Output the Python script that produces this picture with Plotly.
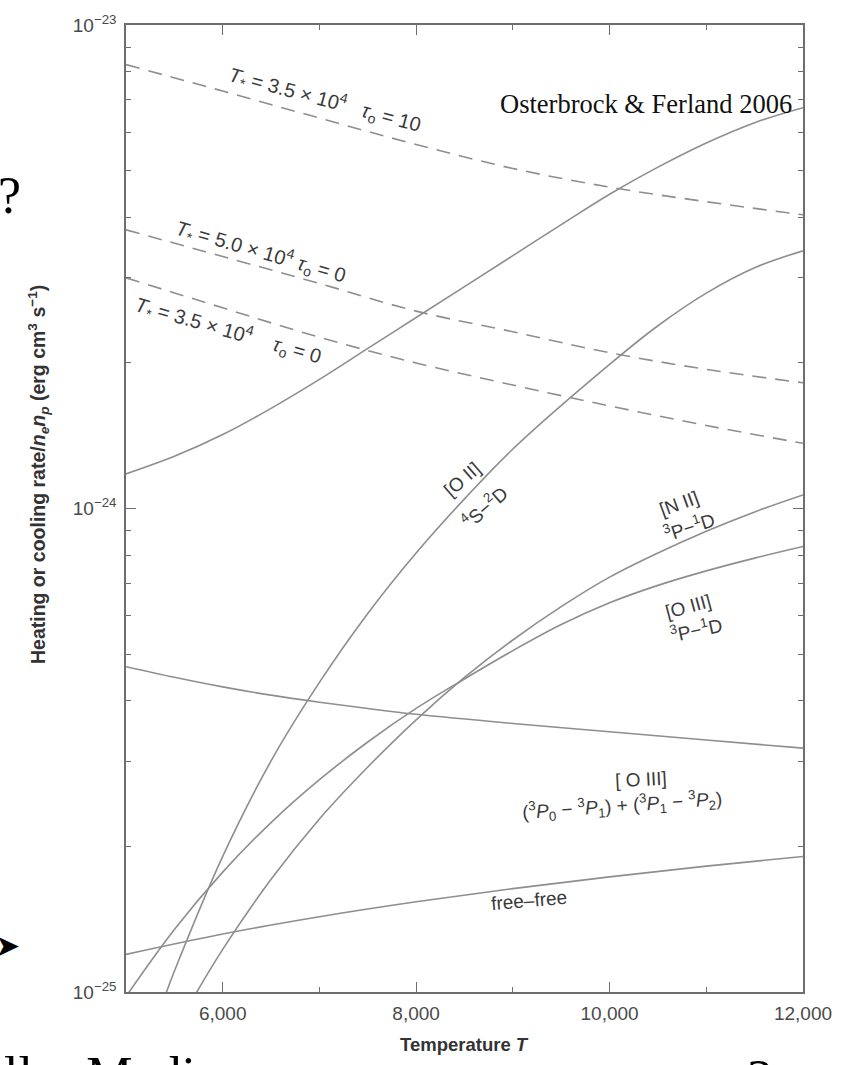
import numpy as np
import plotly.graph_objects as go

# ---- heating rates (dashed) ----
heat_a_T = [5000, 6000, 7000, 8000, 9000, 10000, 11000, 12000]
heat_a = [8.28e-24, 7.30e-24, 6.42e-24, 5.66e-24, 5.05e-24, 4.62e-24, 4.31e-24, 4.05e-24]   # T*=3.5e4, tau0=10

heat_b_T = [5000, 6000, 7000, 8000, 9000, 10000, 11000, 12000]
heat_b = [3.77e-24, 3.32e-24, 2.92e-24, 2.56e-24, 2.32e-24, 2.10e-24, 1.94e-24, 1.82e-24]   # T*=5.0e4, tau0=0

heat_c_T = [5000, 6000, 7000, 8000, 9000, 10000, 11000, 12000]
heat_c = [3.00e-24, 2.60e-24, 2.26e-24, 2.00e-24, 1.80e-24, 1.63e-24, 1.485e-24, 1.364e-24]  # T*=3.5e4, tau0=0

# ---- cooling rates (solid) ----
grid_T = [5000, 5500, 6000, 6500, 7000, 7500, 8000, 8500, 9000, 9500, 10000, 10500, 11000, 11500, 12000]

total = [1.179e-24, 1.282e-24, 1.422e-24, 1.611e-24, 1.849e-24, 2.143e-24, 2.483e-24, 2.877e-24,
         3.334e-24, 3.864e-24, 4.467e-24, 5.082e-24, 5.702e-24, 6.281e-24, 6.745e-24]

oii_T = [5400, 5500, 6000, 6500, 7000, 7500, 8000, 8500, 9000, 10000, 10500, 11000, 11500, 12000]
oii = [9.77e-26, 1.104e-25, 1.908e-25, 3.006e-25, 4.369e-25, 6.067e-25, 8.091e-25, 1.0471e-24,
       1.3274e-24, 1.9861e-24, 2.3878e-24, 2.7895e-24, 3.1477e-24, 3.4119e-24]

nii_T = [5700, 6000, 6500, 7000, 7500, 8000, 8500, 9000, 9500, 10000, 10500, 11000, 11500, 12000]
nii = [9.75e-26, 1.225e-25, 1.710e-25, 2.280e-25, 2.920e-25, 3.656e-25, 4.472e-25, 5.346e-25,
       6.266e-25, 7.211e-25, 8.091e-25, 8.974e-25, 9.840e-25, 1.0666e-24]

oiii = [9.79e-26, 1.347e-25, 1.770e-25, 2.241e-25, 2.748e-25, 3.289e-25, 3.859e-25, 4.441e-25,
        5.082e-25, 5.754e-25, 6.383e-25, 6.934e-25, 7.430e-25, 7.896e-25, 8.344e-25]

fs_T = [5000, 5500, 6000, 6500, 7000, 7500, 8000, 9000, 10000, 11000, 12000]
oiii_fs = [4.708e-25, 4.477e-25, 4.276e-25, 4.111e-25, 3.976e-25, 3.858e-25, 3.753e-25,
           3.592e-25, 3.454e-25, 3.321e-25, 3.194e-25]

ff_T = [5000, 6000, 7000, 8000, 9000, 10000, 11000, 12000]
ff = [1.196e-25, 1.318e-25, 1.431e-25, 1.5365e-25, 1.636e-25, 1.7305e-25, 1.821e-25, 1.907e-25]

# ---- axis ticks ----
x_tick_vals = [6000, 8000, 10000, 12000]
x_tick_text = ["6,000", "8,000", "10,000", "12,000"]
y_tick_vals = [1e-25, 1e-24, 1e-23]
y_tick_text = ["10<sup>\u221225</sup>", "10<sup>\u221224</sup>", "10<sup>\u221223</sup>"]
y_minor_vals = [m * 10.0 ** e for e in (-25, -24) for m in range(2, 10)]

LINE = "#8e8e8e"
AXIS = "#6e6e6e"
TXT = "#3a3a3a"
SANS = "Liberation Sans, Arial, sans-serif"
SERIF = "Liberation Serif, Times New Roman, serif"
DASH = "14px,9px"

fig = go.Figure()


def add_curve(xs, ys, name, dashed=False):
    fig.add_trace(go.Scatter(
        x=xs, y=ys, mode="lines", name=name,
        line=dict(color=LINE, width=1.6, shape="spline", smoothing=1.0,
                  dash=DASH if dashed else "solid"),
        hoverinfo="skip", showlegend=False))


add_curve(heat_a_T, heat_a, "T*=3.5e4 tau0=10", True)
add_curve(heat_b_T, heat_b, "T*=5.0e4 tau0=0", True)
add_curve(heat_c_T, heat_c, "T*=3.5e4 tau0=0", True)
add_curve(grid_T, total, "total")
add_curve(oii_T, oii, "[O II] 4S-2D")
add_curve(nii_T, nii, "[N II] 3P-1D")
add_curve(grid_T, oiii, "[O III] 3P-1D")
add_curve(fs_T, oiii_fs, "[O III] fine structure")
add_curve(ff_T, ff, "free-free")

NB = "\u00a0"
labels = [
    # text, T, rate, angle, size
    (f"<i>T</i><sub>*</sub> = 3.5 \u00d7 10<sup>4</sup>{NB*3}<i>\u03c4</i><sub>o</sub> = 10", 7053, 7.03e-24, 15, 20),
    (f"<i>T</i><sub>*</sub> = 5.0 \u00d7 10<sup>4</sup> <i>\u03c4</i><sub>o</sub> = 0", 6392, 3.40e-24, 16, 20),
    (f"<i>T</i><sub>*</sub> = 3.5 \u00d7 10<sup>4</sup>{NB*4}<i>\u03c4</i><sub>o</sub> = 0", 6057, 2.334e-24, 16, 20),
    ("[O II]", 8476, 1.146e-24, -41, 19),
    ("<sup>4</sup>S\u2212<sup>2</sup>D", 8699, 1.009e-24, -41, 19),
    ("[N II]", 10722, 1.024e-24, -20, 19),
    ("<sup>3</sup>P\u2212<sup>1</sup>D", 10823, 9.19e-25, -18, 19),
    ("[O III]", 10813, 6.27e-25, -15, 19),
    ("<sup>3</sup>P\u2212<sup>1</sup>D", 10894, 5.63e-25, -12, 19),
    ("[ O III]", 10325, 2.753e-25, -3, 19),
    ("(<sup>3</sup><i>P</i><sub>0</sub> \u2212 <sup>3</sup><i>P</i><sub>1</sub>) + "
     "(<sup>3</sup><i>P</i><sub>1</sub> \u2212 <sup>3</sup><i>P</i><sub>2</sub>)", 10132, 2.434e-25, -4, 19),
    ("free\u2013free", 9167, 1.549e-25, -5, 19),
]
for text, tx, ty, ang, sz in labels:
    fig.add_annotation(x=tx, y=np.log10(ty), xref="x", yref="y", text=text,
                       showarrow=False, textangle=ang, xanchor="center", yanchor="middle",
                       font=dict(family=SANS, size=sz, color=TXT))

fig.add_annotation(x=11911, y=np.log10(6.86e-24), xref="x", yref="y",
                   text="Osterbrock & Ferland 2006", showarrow=False,
                   xanchor="right", yanchor="middle",
                   font=dict(family=SERIF, size=26.5, color="#111111"))

# axis titles
fig.add_annotation(x=-0.1294, y=0.535, xref="paper", yref="paper", textangle=-90,
                   text="<b>Heating or cooling rate/<i>n<sub>e</sub>n<sub>p</sub></i> (erg cm<sup>3</sup> s<sup>\u22121</sup>)</b>",
                   showarrow=False, xanchor="center", yanchor="middle",
                   font=dict(family=SANS, size=19.5, color="#333333"))
fig.add_annotation(x=0.5, y=-0.0541, xref="paper", yref="paper",
                   text="<b>Temperature <i>T</i></b>", showarrow=False,
                   xanchor="center", yanchor="middle",
                   font=dict(family=SANS, size=18.5, color="#333333"))

# slide text around the figure
fig.add_annotation(x=-0.1715, y=0.824, xref="paper", yref="paper", text="?",
                   showarrow=False, xanchor="center", yanchor="middle",
                   font=dict(family=SERIF, size=52, color="#000000"))
fig.add_annotation(x=-0.175, y=0.048, xref="paper", yref="paper", text="\u27a4",
                   showarrow=False, xanchor="center", yanchor="middle",
                   font=dict(family="DejaVu Sans", size=30, color="#000000"))
fig.add_annotation(x=-0.1832, y=-0.055, xref="paper", yref="paper", text="llar Medium",
                   showarrow=False, xanchor="left", yanchor="top",
                   font=dict(family=SERIF, size=52, color="#000000"))
fig.add_annotation(x=0.937, y=-0.058, xref="paper", yref="paper", text="3",
                   showarrow=False, xanchor="center", yanchor="top",
                   font=dict(family=SERIF, size=52, color="#000000"))

axis_common = dict(showline=True, linecolor=AXIS, linewidth=1.5, mirror="ticks",
                   ticks="inside", ticklen=10, tickwidth=1.3, tickcolor=AXIS,
                   showgrid=False, zeroline=False,
                   tickfont=dict(family=SANS, size=19, color="#4a4a4a"))

fig.update_xaxes(range=[5000, 12000], tickmode="array", tickvals=x_tick_vals,
                 ticktext=x_tick_text, ticklabelstandoff=3,
                 minor=dict(tickmode="linear", tick0=5000, dtick=1000, ticks="inside",
                            ticklen=5, tickwidth=1.3, tickcolor=AXIS),
                 **axis_common)
fig.update_yaxes(type="log", range=[-25, -23], tickmode="array", tickvals=y_tick_vals,
                 ticktext=y_tick_text, ticklabelstandoff=4,
                 minor=dict(tickmode="array", tickvals=y_minor_vals, ticks="inside",
                            ticklen=5, tickwidth=1.3, tickcolor=AXIS),
                 **axis_common)

fig.update_layout(width=844, height=1065, autosize=False,
                  margin=dict(l=126, r=30, t=13, b=73),
                  paper_bgcolor="white", plot_bgcolor="white")

fig.write_html("out.html")
